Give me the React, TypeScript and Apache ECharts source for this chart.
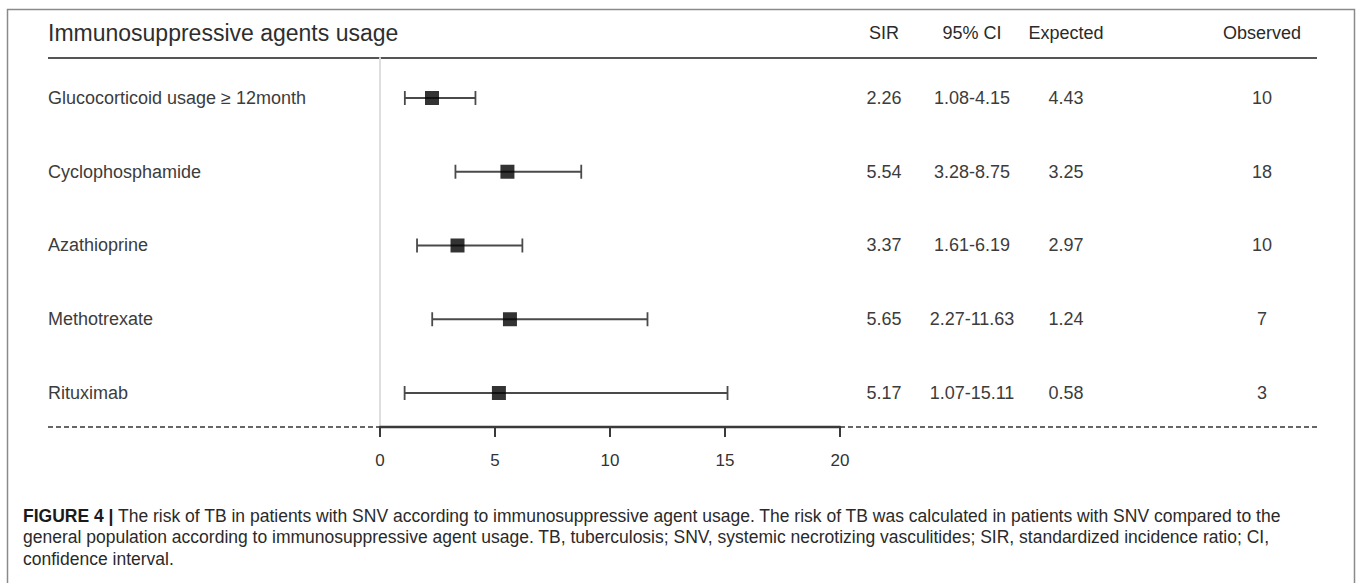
import React, { useEffect, useRef } from "react";
import * as echarts from "echarts";

const FONT = '"Liberation Sans", Arial, Helvetica, sans-serif';

const CATEGORIES = [
  "Glucocorticoid usage \u2265 12month",
  "Cyclophosphamide",
  "Azathioprine",
  "Methotrexate",
  "Rituximab",
];
const SIR = [2.26, 5.54, 3.37, 5.65, 5.17];
const CI_LOW = [1.08, 3.28, 1.61, 2.27, 1.07];
const CI_HIGH = [4.15, 8.75, 6.19, 11.63, 15.11];
const EXPECTED = [4.43, 3.25, 2.97, 1.24, 0.58];
const OBSERVED = [10, 18, 10, 7, 3];
const HEADERS = ["SIR", "95% CI", "Expected", "Observed"];
const TITLE = "Immunosuppressive agents usage";
const CAPTION_LINES = [
  "The risk of TB in patients with SNV according to immunosuppressive agent usage. The risk of TB was calculated in patients with SNV compared to the",
  "general population according to immunosuppressive agent usage. TB, tuberculosis; SNV, systemic necrotizing vasculitides; SIR, standardized incidence ratio; CI,",
  "confidence interval.",
];

// layout
const COL_X = [884, 972, 1066, 1262];
const LABEL_X = 48;
const LINE_LEFT = 48;
const LINE_RIGHT = 1317;
const HEADER_Y = 33;
const HEADER_LINE_Y = 58;
const AXIS_Y = 427;
const GRID_LEFT = 380;
const GRID_WIDTH = 460;

function rowText(i: number): string[] {
  return [
    SIR[i].toFixed(2),
    `${CI_LOW[i].toFixed(2)}-${CI_HIGH[i].toFixed(2)}`,
    EXPECTED[i].toFixed(2),
    String(OBSERVED[i]),
  ];
}

function buildOption() {
  const textBase = { fontFamily: FONT, fontSize: 18, fill: "#3c3c3c" };
  const graphic: any[] = [
    {
      type: "rect",
      shape: { x: 7.5, y: 9.5, width: 1347, height: 620 },
      style: { fill: "none", stroke: "#8a8a8a", lineWidth: 1.5 },
      silent: true,
    },
    {
      type: "text",
      x: LINE_LEFT,
      y: HEADER_Y,
      style: { ...textBase, text: TITLE, fontSize: 23, fill: "#2e2e2e", verticalAlign: "middle", align: "left" },
    },
    ...HEADERS.map((h, k) => ({
      type: "text",
      x: COL_X[k],
      y: HEADER_Y,
      style: { ...textBase, text: h, fill: "#2a2a2a", align: "center", verticalAlign: "middle" },
    })),
    {
      type: "line",
      shape: { x1: LINE_LEFT, y1: HEADER_LINE_Y, x2: LINE_RIGHT, y2: HEADER_LINE_Y },
      style: { stroke: "#555", lineWidth: 2.2 },
    },
    {
      type: "line",
      shape: { x1: LINE_LEFT, y1: AXIS_Y, x2: GRID_LEFT, y2: AXIS_Y },
      style: { stroke: "#666", lineWidth: 2, lineDash: [5, 3] },
    },
    {
      type: "line",
      shape: { x1: GRID_LEFT + GRID_WIDTH, y1: AXIS_Y, x2: LINE_RIGHT, y2: AXIS_Y },
      style: { stroke: "#666", lineWidth: 2, lineDash: [5, 3] },
    },
    {
      type: "text",
      x: 23,
      y: 505,
      style: {
        text: "{b|FIGURE 4 |} " + CAPTION_LINES.join("\n"),
        fontFamily: FONT,
        fontSize: 17.5,
        fill: "#2a2a2a",
        lineHeight: 21.5,
        verticalAlign: "top",
        align: "left",
        rich: {
          b: { fontFamily: FONT, fontSize: 17.5, fontWeight: "bold", fill: "#1a1a1a", lineHeight: 21.5 },
        },
      },
    },
  ];

  return {
    animation: false,
    backgroundColor: "#fff",
    textStyle: { fontFamily: FONT },
    grid: { left: GRID_LEFT, width: GRID_WIDTH, top: HEADER_LINE_Y, height: AXIS_Y - HEADER_LINE_Y },
    xAxis: {
      type: "value",
      min: 0,
      max: 20,
      interval: 5,
      axisLine: { show: true, onZero: false, lineStyle: { color: "#3a3a3a", width: 2.4 } },
      axisTick: { show: true, length: 10, lineStyle: { color: "#3a3a3a", width: 2 } },
      axisLabel: { fontSize: 17, color: "#333", margin: 25, fontFamily: FONT },
      splitLine: { show: false },
    },
    yAxis: {
      type: "value",
      inverse: true,
      min: -0.542,
      max: 4.461,
      axisLine: { show: true, onZero: false, lineStyle: { color: "#dedede", width: 2 } },
      axisTick: { show: false },
      axisLabel: { show: false },
      splitLine: { show: false },
    },
    graphic,
    series: [
      {
        type: "custom",
        name: "CI",
        silent: true,
        clip: false,
        data: CI_LOW.map((lo, i) => [lo, CI_HIGH[i], i]),
        encode: { x: [0, 1], y: 2 },
        renderItem: (params: any, api: any) => {
          const lo = api.coord([api.value(0), api.value(2)]);
          const hi = api.coord([api.value(1), api.value(2)]);
          const cap = 7;
          const style = { stroke: "#4a4a4a", lineWidth: 1.8, fill: "none" };
          return {
            type: "group",
            children: [
              { type: "line", shape: { x1: lo[0], y1: lo[1], x2: hi[0], y2: hi[1] }, style },
              { type: "line", shape: { x1: lo[0], y1: lo[1] - cap, x2: lo[0], y2: lo[1] + cap }, style },
              { type: "line", shape: { x1: hi[0], y1: hi[1] - cap, x2: hi[0], y2: hi[1] + cap }, style },
            ],
          };
        },
        z: 3,
      },
      {
        type: "scatter",
        name: "SIR",
        silent: true,
        data: SIR.map((v, i) => [v, i]),
        symbol: "rect",
        symbolSize: 14,
        itemStyle: { color: "#000" },
        z: 5,
      },
      {
        type: "custom",
        name: "table",
        silent: true,
        clip: false,
        data: CATEGORIES.map((_, i) => [0, i]),
        encode: { x: 0, y: 1 },
        renderItem: (params: any, api: any) => {
          const i = api.value(1);
          const y = api.coord([0, i])[1];
          const vals = rowText(i);
          return {
            type: "group",
            children: [
              {
                type: "text",
                x: LABEL_X,
                y,
                style: { ...textBase, text: CATEGORIES[i], align: "left", verticalAlign: "middle" },
              },
              ...vals.map((t, k) => ({
                type: "text",
                x: COL_X[k],
                y,
                style: { ...textBase, text: t, align: "center", verticalAlign: "middle" },
              })),
            ],
          };
        },
      },
    ],
  };
}

export default function App() {
  const ref = useRef<HTMLDivElement>(null);
  useEffect(() => {
    document.body.style.margin = "0";
    const chart = echarts.init(ref.current!, null, { renderer: "svg" });
    chart.setOption(buildOption() as any);
    return () => chart.dispose();
  }, []);
  return <div ref={ref} style={{ width: 1360, height: 583, background: "#fff" }} />;
}
